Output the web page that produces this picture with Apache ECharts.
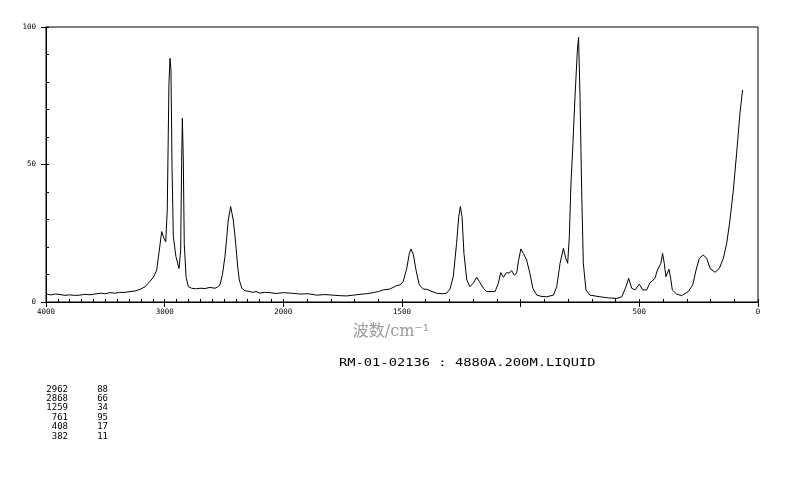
<!DOCTYPE html>
<html><head><meta charset="utf-8">
<script src="https://cdn.jsdelivr.net/npm/echarts@6/dist/echarts.min.js"></script>
<style>html,body{margin:0;padding:0;background:#fff}#c{width:794px;height:482px}</style>
</head><body><div id="c"></div>
<script>
// Raman spectrum: wavenumber (cm-1) and relative intensity
const wavenumbers = [
4000,3960,3920,3882,3840,3800,3760,3714,3670,3630,3587,3540,3500,3461,3420,3380,3334,3292,3250,3208,3166,3124,3095,3067,3045,3025,3006,2991,2978,2964,2955,2947,2938,2927,2905,2879,2865,2857,2851,2843,2835,2820,2801,2772,2740,2702,2660,2618,2576,2555,2534,2513,2492,2477,2464,2444,2422,2410,2399,2385,2371,2350,2323,2290,2260,2230,2197,2160,2112,2060,2000,
1965,1930,1895,1859,1825,1791,1760,1733,1705,1677,1650,1621,1600,1579,1551,1522,1508,1495,1480,1469,1462,1452,1441,1427,1410,1395,1382,1354,1330,1312,1298,1284,1270,1261,1254,1247,1239,1227,1214,1200,1185,1174,1157,1143,1108,1094,1084,1073,1059,1049,1038,1027,1017,1009,999,989,975,961,949,932,910,890,862,848,834,820,810,802,795,788,781,771,761,756,750,743,736,725,708,666,630,595,574,556,545,532,518,500,486,469,455,434,424,416,409,402,395,388,381,375,368,361,343,322,294,275,261,247,231,216,202,181,163,146,132,118,104,90,76,65
];
const intensities = [
2.9,2.6,2.9,2.7,2.4,2.6,2.4,2.5,2.8,2.6,2.9,3.2,3.0,3.4,3.2,3.5,3.5,3.8,4.0,4.6,5.5,7.5,9.0,11.6,18.9,25.6,23.2,21.9,33.5,79.5,88.6,84.4,49.2,23.7,16.5,12.2,18.9,50.4,66.8,51.6,21.3,9.2,5.6,5.0,4.8,5.0,4.9,5.3,5.0,5.4,6.2,10,16.5,23.5,29.8,34.7,29.8,25,20,13,8,5,4.1,3.9,3.5,3.8,3.2,3.5,3.4,3.1,3.4,
3.2,2.9,3.0,2.5,2.7,2.5,2.3,2.2,2.5,2.8,3.0,3.4,3.8,4.4,4.7,6.0,6.2,7.4,12.2,17.7,19.3,17.1,11.6,6.2,4.7,4.6,4.1,3.2,3.0,3.2,4.7,9.2,21.3,31,34.7,31,17.7,8,5.6,6.8,9.0,7.4,5.0,3.8,3.8,6.8,10.7,9.0,10.7,10.5,11.4,9.8,10.4,15,19.3,17.7,15.3,10.4,5.0,2.5,2.0,1.9,2.5,5.6,14.1,19.5,15.9,14.1,23.7,43.2,55.3,74.7,91.6,96.2,74.7,40.7,14.1,4.4,2.5,1.9,1.5,1.3,1.9,5.6,8.6,5.0,4.4,6.5,4.4,4.4,7.0,8.6,11.6,11.0,14.1,17.7,14.1,9.2,9.8,11.9,8.6,4.4,2.9,2.3,3.8,6.2,11.6,15.9,17.1,15.9,12.2,10.8,12.2,15.9,21.3,29.8,40.7,54.1,68.6,77.1
];
// tick labels indexed by axis position / 500 (axis is compressed 2:1 above 2000 cm-1)
const xTickLabels = ['0','500','','1500','2000','3000','4000'];
const yTickLabels = ['0','50','100'];
const peakPositions = ['2962','2868','1259','761','408','382'];
const peakHeights = ['88','66','34','95','17','11'];
const xAxisTitle = '波数/cm⁻¹';
const sampleTitle = 'RM-01-02136 : 4880A.200M.LIQUID';

function toAxis(w){ return w <= 2000 ? w : 2000 + (w - 2000) / 2; }
const seriesData = wavenumbers.map((w, i) => [toAxis(w), intensities[i]]);

const mono = '"DejaVu Sans Mono", monospace';
const chart = echarts.init(document.getElementById('c'), null, {renderer: 'canvas'});
const tickStyle = {color: '#000', width: 1};
const minorAxis = (grid, min, max, interval, inverse, position) => ({
  gridIndex: grid, type: 'value', min: min, max: max, interval: interval, inverse: inverse, position: position,
  axisLine: {show: false, onZero: false}, axisTick: {show: true, inside: true, length: 3, lineStyle: tickStyle},
  axisLabel: {show: false}, splitLine: {show: false}
});
chart.setOption({
  animation: false,
  backgroundColor: '#fff',
  grid: [
    {left: 46, top: 27, width: 712, height: 275, show: true, borderColor: '#000', borderWidth: 1, backgroundColor: 'transparent'},
    {left: 46, top: 27, width: 712, height: 275, show: false},
    {left: 46, top: 27, width: 237.33, height: 275, show: false}
  ],
  xAxis: [
    {gridIndex: 0, type: 'value', min: 0, max: 3000, interval: 500, inverse: true, position: 'bottom',
     axisLine: {show: true, onZero: false, lineStyle: tickStyle},
     axisTick: {show: true, inside: false, length: 5, lineStyle: tickStyle},
     axisLabel: {show: true, margin: 6, fontSize: 7.5, fontFamily: mono, color: '#000',
       showMinLabel: true, showMaxLabel: true,
       formatter: v => xTickLabels[Math.round(v / 500)]},
     splitLine: {show: false}},
    minorAxis(1, 0, 3000, 100, true, 'bottom'),
    minorAxis(2, 2000, 3000, 50, true, 'bottom')
  ],
  yAxis: [
    {gridIndex: 0, type: 'value', min: 0, max: 100, interval: 50, position: 'left',
     axisLine: {show: true, onZero: false, lineStyle: tickStyle},
     axisTick: {show: true, inside: false, length: 5, lineStyle: tickStyle},
     axisLabel: {show: true, margin: 10, fontSize: 7.5, fontFamily: mono, color: '#000',
       formatter: v => yTickLabels[Math.round(v / 50)]},
     splitLine: {show: false}},
    minorAxis(1, 0, 100, 10, false, 'left'),
    {gridIndex: 2, type: 'value', min: 0, max: 100, show: false}
  ],
  series: [{
    type: 'line', xAxisIndex: 0, yAxisIndex: 0, data: seriesData,
    symbol: 'none', silent: true, lineStyle: {color: '#000', width: 1}
  }],
  graphic: [
    {type: 'text', x: 391, y: 332, silent: true,
     style: {text: xAxisTitle, font: '16px "DejaVu Serif", "Noto Sans CJK SC", serif', fill: '#9a9a9a',
       align: 'center', verticalAlign: 'middle', textAlign: 'center', textVerticalAlign: 'middle'}},
    {type: 'text', x: 339, y: 363, scaleX: 1.25, silent: true,
     style: {text: sampleTitle, font: '11px ' + mono, fill: '#000',
       align: 'left', verticalAlign: 'middle', textAlign: 'left', textVerticalAlign: 'middle'}},
    {type: 'text', x: 68, y: 384.5, silent: true,
     style: {text: peakPositions.join('\n'), font: '9px ' + mono, fill: '#000', lineHeight: 9.4,
       align: 'right', verticalAlign: 'top', textAlign: 'right', textVerticalAlign: 'top'}},
    {type: 'text', x: 108, y: 384.5, silent: true,
     style: {text: peakHeights.join('\n'), font: '9px ' + mono, fill: '#000', lineHeight: 9.4,
       align: 'right', verticalAlign: 'top', textAlign: 'right', textVerticalAlign: 'top'}}
  ]
});
</script>
</body></html>
